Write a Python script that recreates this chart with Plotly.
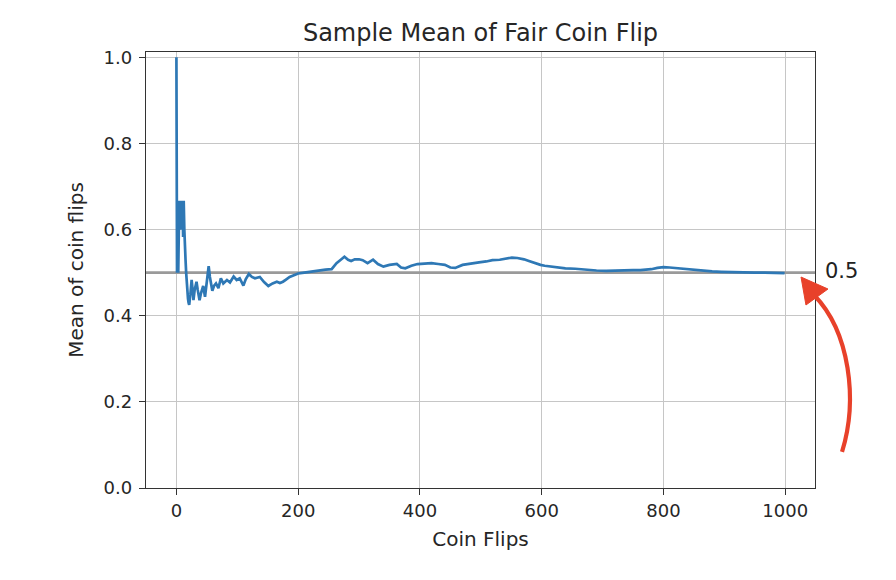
import plotly.graph_objects as go

# ---- data ----
flips = [0, 1, 2, 3, 4, 5, 6, 7, 8, 9, 10, 11, 12, 13, 14, 15, 16, 17, 18, 19, 20, 21,
         23, 25, 27, 28, 30, 33, 35, 38, 40, 44, 47, 50, 53, 55, 57, 59, 62, 65, 69, 73,
         77, 83, 88, 94, 99, 104, 110, 114, 119, 124, 129, 137, 144, 151, 158, 165, 170,
         175, 180, 186, 193, 200, 210, 219, 227, 235, 245, 255, 263, 270, 276, 282, 287,
         293, 300, 306, 314, 323, 331, 340, 350, 362, 369, 376, 386, 396, 408, 419, 430,
         441, 450, 458, 470, 481, 497, 509, 519, 531, 541, 551, 560, 571, 579, 588, 598,
         605, 617, 628, 639, 655, 668, 678, 690, 706, 720, 734, 750, 762, 780, 790, 800,
         810, 824, 835, 850, 868, 880, 895, 910, 933, 950, 966, 980, 999]
sample_mean = [1.0, 0.5, 0.667, 0.5, 0.6, 0.667, 0.6, 0.667, 0.667, 0.6, 0.667, 0.583,
               0.667, 0.6, 0.54, 0.53, 0.5, 0.47, 0.45, 0.44, 0.43, 0.425,
               0.45, 0.483, 0.455, 0.436, 0.46, 0.479, 0.46, 0.436, 0.45, 0.469, 0.444,
               0.48, 0.515, 0.49, 0.475, 0.458, 0.47, 0.475, 0.464, 0.487,
               0.475, 0.483, 0.477, 0.491, 0.483, 0.487, 0.47, 0.485, 0.497, 0.49, 0.487,
               0.49, 0.478, 0.469, 0.475, 0.479, 0.476,
               0.479, 0.484, 0.49, 0.494, 0.498, 0.5, 0.502, 0.503, 0.506, 0.507, 0.508,
               0.522, 0.53, 0.537, 0.53, 0.527,
               0.531, 0.531, 0.529, 0.522, 0.53, 0.52, 0.514, 0.518, 0.52, 0.512, 0.51,
               0.516, 0.52, 0.521, 0.522, 0.52,
               0.518, 0.512, 0.511, 0.518, 0.521, 0.524, 0.526, 0.529, 0.53, 0.533, 0.535,
               0.534, 0.531, 0.527, 0.522, 0.518,
               0.516, 0.514, 0.511, 0.51, 0.509, 0.507, 0.506, 0.505, 0.504, 0.505, 0.505,
               0.506, 0.506, 0.508, 0.511, 0.513,
               0.512, 0.51, 0.508, 0.506, 0.504, 0.503, 0.502, 0.501, 0.501, 0.5, 0.5,
               0.499, 0.499]
expected_mean = 0.5
x_ticks = [0, 200, 400, 600, 800, 1000]
y_ticks = [0.0, 0.2, 0.4, 0.6, 0.8, 1.0]
title_text = "Sample Mean of Fair Coin Flip"
x_label = "Coin Flips"
y_label = "Mean of coin flips"
ref_label = "0.5"

# ---- layout constants ----
OFF = 8                      # page body margin
W, H = 896 - OFF, 580 - OFF
ML, MT = 146 - OFF, 52 - OFF
PW, PH = 669, 436
MR, MB = W - ML - PW, H - MT - PH
X_RANGE = [-49.95, 1048.95]
Y_RANGE = [0, 1.0123]
FONT = "DejaVu Sans"
TXT = "#262626"
RED = "#e8412a"


def px(x, y):
    """screen pixel position -> paper coordinates"""
    return (x - OFF - ML) / PW, (MT + PH - (y - OFF)) / PH


fig = go.Figure()
# horizontal reference line at the expected mean, under the data line
fig.add_trace(go.Scatter(x=X_RANGE, y=[expected_mean, expected_mean], mode="lines",
                         line=dict(color="#9a9a9a", width=2.6), showlegend=False,
                         hoverinfo="skip"))
fig.add_trace(go.Scatter(x=flips, y=sample_mean, mode="lines",
                         line=dict(color="#2e78b5", width=2.7), showlegend=False,
                         hoverinfo="skip"))

# label next to the reference line
fig.add_annotation(x=1, xref="paper", y=expected_mean, yref="y", text=ref_label,
                   showarrow=False, xanchor="left", yanchor="middle", xshift=8, yshift=2,
                   font=dict(family=FONT, size=21, color="#222"))

# curved red arrow (decoration)
p0, c1, c2, p3 = (842, 452), (858, 400), (850, 332), (814, 295)
pts = [px(*p) for p in (p0, c1, c2, p3)]
path = "M {:.4f},{:.4f} C {:.4f},{:.4f} {:.4f},{:.4f} {:.4f},{:.4f}".format(
    *pts[0], *pts[1], *pts[2], *pts[3])
fig.add_shape(type="path", path=path, xref="paper", yref="paper",
              line=dict(color=RED, width=4.2))
tip, b1, b2 = px(801, 277), px(806, 305), px(828, 289)
head = "M {:.4f},{:.4f} L {:.4f},{:.4f} L {:.4f},{:.4f} Z".format(*tip, *b1, *b2)
fig.add_shape(type="path", path=head, xref="paper", yref="paper",
              line=dict(color=RED, width=1), fillcolor=RED)

axis_common = dict(showline=True, linecolor="#333333", linewidth=1.4, mirror=True,
                   ticks="outside", ticklen=6, tickwidth=1.3, tickcolor="#333333",
                   showgrid=True, gridcolor="#c6c6c6", gridwidth=1.3, zeroline=False,
                   tickfont=dict(family=FONT, size=18, color=TXT))

fig.update_xaxes(range=X_RANGE, tickvals=x_ticks,
                 ticktext=[str(v) for v in x_ticks],
                 title=dict(text=x_label, font=dict(family=FONT, size=20, color=TXT),
                            standoff=12),
                 **axis_common)
fig.update_yaxes(range=Y_RANGE, tickvals=y_ticks,
                 ticktext=["{:.1f}".format(v) for v in y_ticks],
                 ticklabelstandoff=3,
                 title=dict(text=y_label, font=dict(family=FONT, size=20, color=TXT),
                            standoff=14),
                 **axis_common)

fig.update_layout(
    width=W, height=H,
    margin=dict(l=ML, r=MR, t=MT, b=MB, autoexpand=False),
    paper_bgcolor="white", plot_bgcolor="white",
    title=dict(text=title_text, x=(ML + PW / 2) / W, xanchor="center",
               y=1 - (33 - OFF) / H, yanchor="middle", yref="container",
               font=dict(family=FONT, size=24, color=TXT)),
    font=dict(family=FONT, color=TXT),
)

fig.write_html("out.html")
